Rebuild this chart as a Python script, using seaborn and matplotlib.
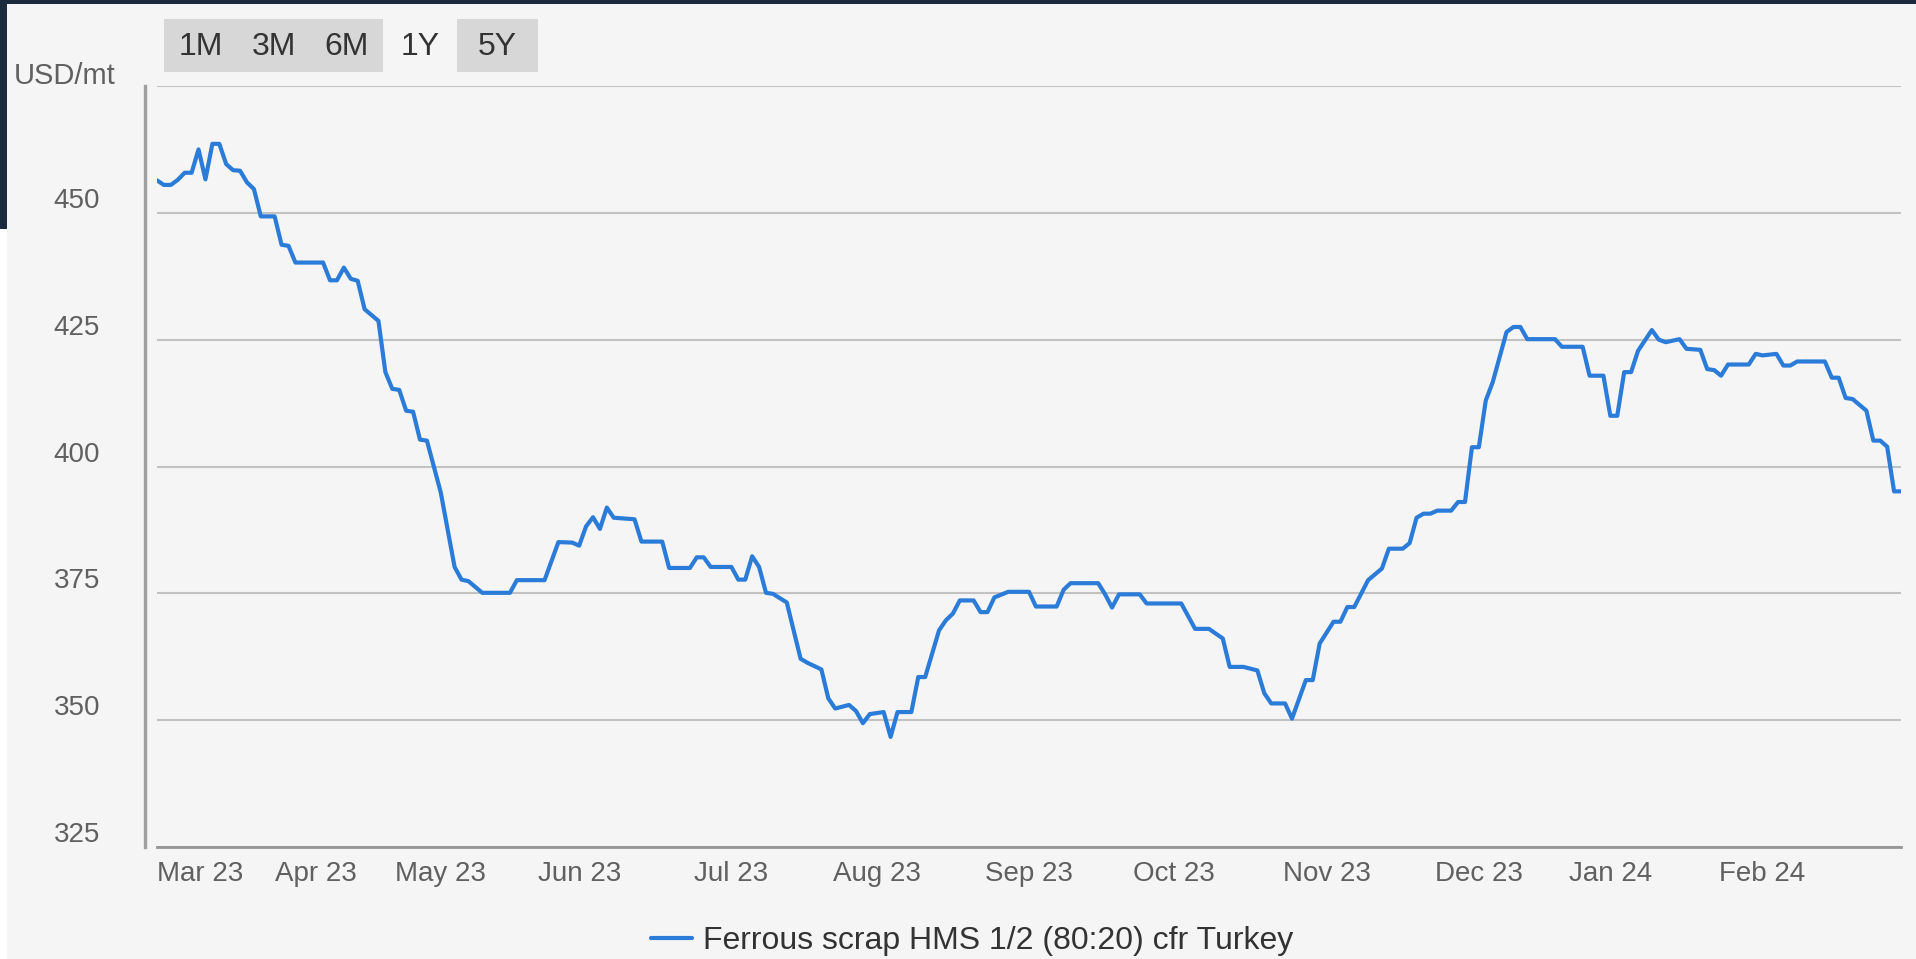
import numpy as np
import pandas as pd
import matplotlib.pyplot as plt
import matplotlib.patches as mpatches
from matplotlib.lines import Line2D
from matplotlib.transforms import ScaledTranslation
import seaborn as sns


# ==========================================================
# data
# ==========================================================
series_name = "Ferrous scrap HMS 1/2 (80:20) cfr Turkey"
unit_label = "USD/mt"

price_dates = [
    "2023-03-01", "2023-03-02", "2023-03-03", "2023-03-06", "2023-03-07", "2023-03-08",
    "2023-03-09", "2023-03-10", "2023-03-13", "2023-03-14", "2023-03-15", "2023-03-16",
    "2023-03-17", "2023-03-20", "2023-03-21", "2023-03-22", "2023-03-24", "2023-03-27",
    "2023-03-28", "2023-03-29", "2023-04-04", "2023-04-05", "2023-04-06", "2023-04-11",
    "2023-04-12", "2023-04-13", "2023-04-14", "2023-04-18", "2023-04-19", "2023-04-20",
    "2023-04-21", "2023-04-24", "2023-04-25", "2023-04-26", "2023-04-27", "2023-05-02",
    "2023-05-04", "2023-05-05", "2023-05-09", "2023-05-11", "2023-05-17", "2023-05-18",
    "2023-05-24", "2023-05-26", "2023-05-31", "2023-06-01", "2023-06-02", "2023-06-05",
    "2023-06-06", "2023-06-07", "2023-06-08", "2023-06-13", "2023-06-14", "2023-06-19",
    "2023-06-20", "2023-06-23", "2023-06-26", "2023-06-27", "2023-06-28", "2023-07-03",
    "2023-07-04", "2023-07-05", "2023-07-06", "2023-07-07", "2023-07-10", "2023-07-11",
    "2023-07-13", "2023-07-17", "2023-07-18", "2023-07-20", "2023-07-21", "2023-07-24",
    "2023-07-26", "2023-07-27", "2023-07-28", "2023-07-31", "2023-08-02", "2023-08-03",
    "2023-08-04", "2023-08-08", "2023-08-09", "2023-08-10", "2023-08-14", "2023-08-15",
    "2023-08-16", "2023-08-17", "2023-08-21", "2023-08-22", "2023-08-23", "2023-08-24",
    "2023-08-29", "2023-09-01", "2023-09-04", "2023-09-07", "2023-09-08", "2023-09-11",
    "2023-09-15", "2023-09-18", "2023-09-19", "2023-09-20", "2023-09-25", "2023-09-26",
    "2023-10-03", "2023-10-05", "2023-10-09", "2023-10-11", "2023-10-12", "2023-10-16",
    "2023-10-18", "2023-10-19", "2023-10-20", "2023-10-24", "2023-10-25", "2023-10-27",
    "2023-10-30", "2023-10-31", "2023-11-02", "2023-11-03", "2023-11-06", "2023-11-07",
    "2023-11-09", "2023-11-13", "2023-11-14", "2023-11-16", "2023-11-17", "2023-11-20",
    "2023-11-21", "2023-11-22", "2023-11-23", "2023-11-27", "2023-11-28", "2023-11-29",
    "2023-11-30", "2023-12-01", "2023-12-04", "2023-12-05", "2023-12-07", "2023-12-08",
    "2023-12-11", "2023-12-12", "2023-12-18", "2023-12-19", "2023-12-22", "2023-12-27",
    "2023-12-29", "2024-01-02", "2024-01-03", "2024-01-04", "2024-01-05", "2024-01-08",
    "2024-01-10", "2024-01-11", "2024-01-12", "2024-01-16", "2024-01-17", "2024-01-19",
    "2024-01-22", "2024-01-23", "2024-01-24", "2024-01-25", "2024-01-30", "2024-01-31",
    "2024-02-01", "2024-02-05", "2024-02-06", "2024-02-07", "2024-02-08", "2024-02-14",
    "2024-02-15", "2024-02-16", "2024-02-19", "2024-02-20", "2024-02-22", "2024-02-23",
    "2024-02-26", "2024-02-27", "2024-02-28", "2024-02-29",
]

price_values = [
    456.4, 455.5, 455.5, 456.5, 457.9, 457.9,
    462.5, 456.6, 463.6, 463.6, 459.6, 458.4,
    458.3, 456.0, 454.7, 449.3, 449.3, 443.7,
    443.5, 440.2, 440.2, 436.7, 436.7, 439.2,
    437.0, 436.6, 431.0, 428.7, 418.6, 415.3,
    415.1, 411.0, 410.8, 405.3, 405.1, 394.9,
    380.2, 377.7, 377.4, 375.1, 375.1, 377.6,
    377.6, 385.1, 385.0, 384.4, 388.2, 390.0,
    387.7, 391.9, 389.9, 389.6, 385.2, 385.2,
    380.0, 380.0, 382.1, 382.1, 380.2, 380.2,
    377.7, 377.7, 382.3, 380.2, 375.1, 374.9,
    373.2, 362.1, 361.3, 360.0, 354.3, 352.3,
    353.0, 351.8, 349.4, 351.2, 351.6, 346.7,
    351.6, 351.6, 358.5, 358.5, 367.7, 369.7,
    371.0, 373.6, 373.6, 371.3, 371.3, 374.2,
    375.3, 375.3, 372.4, 372.4, 375.7, 377.0,
    377.0, 374.8, 372.2, 374.8, 374.8, 373.0,
    373.0, 368.0, 368.0, 366.1, 360.5, 360.5,
    359.8, 355.3, 353.3, 353.3, 350.3, 357.9,
    357.9, 365.1, 369.4, 369.4, 372.3, 372.3,
    377.6, 379.9, 383.8, 383.8, 384.9, 389.9,
    390.7, 390.7, 391.3, 391.3, 393.0, 393.0,
    403.8, 403.8, 413.0, 416.6, 426.5, 427.5,
    427.5, 425.1, 425.1, 423.6, 423.6, 417.9,
    417.9, 410.0, 410.0, 418.6, 418.6, 422.8,
    426.9, 425.0, 424.5, 425.1, 423.2, 423.0,
    419.2, 419.0, 417.9, 420.1, 420.1, 422.2,
    421.9, 422.2, 419.9, 419.9, 420.7, 420.7,
    417.5, 417.5, 413.5, 413.3, 411.0, 405.1,
    405.1, 403.9, 395.1, 395.1,
]

# stock chart uses an ordinal axis: only trading days (UK holidays dropped)
uk_holidays = ["2023-04-07", "2023-04-10", "2023-05-01", "2023-05-08", "2023-05-29",
               "2023-08-28", "2023-12-25", "2023-12-26", "2024-01-01"]

month_labels = ["Mar 23", "Apr 23", "May 23", "Jun 23", "Jul 23", "Aug 23",
                "Sep 23", "Oct 23", "Nov 23", "Dec 23", "Jan 24", "Feb 24"]
y_ticks = [325, 350, 375, 400, 425, 450, 475]
y_tick_labels = ["325", "350", "375", "400", "425", "450", ""]

range_buttons = ["1M", "3M", "6M", "1Y", "5Y"]
selected_button = "1Y"

# ==========================================================
# ordinal x positions
# ==========================================================
days = pd.bdate_range("2023-03-01", "2024-02-29")
days = days[~days.isin(pd.to_datetime(uk_holidays))]
df = pd.DataFrame({"date": pd.to_datetime(price_dates), "price": price_values})
df["pos"] = days.get_indexer(df["date"])
month_pos = (pd.Series(np.arange(len(days)), index=days)
             .groupby(days.to_period("M")).first().values)

# ==========================================================
# style
# ==========================================================
W, H = 1916, 959
BG = "#f5f5f5"
LINE = "#2b7cd9"
TXT = "#606060"

sns.set_style("white")
plt.rcParams["font.family"] = ["Liberation Sans", "DejaVu Sans"]

fig = plt.figure(figsize=(W / 100, H / 100), dpi=100, facecolor=BG)


def fx(px):
    return px / W


def fy(py):
    return 1 - py / H


ax = fig.add_axes([fx(157), fy(847), fx(1901 - 157), (847 - 86) / H])
ax.set_facecolor(BG)

sns.lineplot(data=df, x="pos", y="price", ax=ax, color=LINE, linewidth=3.0,
             estimator=None, legend=False)

ax.set_xlim(0, len(days) - 1)
ax.set_ylim(325, 475)
ax.set_xlabel("")
ax.set_ylabel("")

ax.set_yticks(y_ticks)
ax.set_yticklabels(y_tick_labels)
ax.set_xticks(month_pos)
ax.set_xticklabels(month_labels)

ax.grid(axis="y", color="#c2c2c2", linewidth=1.5)
ax.grid(axis="x", visible=False)
ax.set_axisbelow(True)

for s in ["top", "right"]:
    ax.spines[s].set_visible(False)
ax.spines["left"].set_position(("outward", 8.6))
ax.spines["left"].set_color("#a0a0a0")
ax.spines["left"].set_linewidth(2.4)
ax.spines["bottom"].set_color("#969696")
ax.spines["bottom"].set_linewidth(2.0)

ax.tick_params(axis="y", direction="out", length=11.5, width=1.2, color="#ccd6eb",
               pad=21, labelsize=20, labelcolor=TXT)
ax.tick_params(axis="x", direction="out", length=9.4, width=1.2, color="#ccd6eb",
               pad=1, labelsize=20, labelcolor=TXT)

# labels sit a little above their gridline, first month label hugs the axis start
up = ScaledTranslation(0, 15 / 100, fig.dpi_scale_trans)
for lbl in ax.get_yticklabels():
    lbl.set_transform(lbl.get_transform() + up)
ax.get_xticklabels()[0].set_horizontalalignment("left")

fig.text(fx(14), fy(76), unit_label, ha="left", va="center", fontsize=21, color=TXT)

# ==========================================================
# range selector buttons
# ==========================================================
btn_x = [164, 237, 310, 384, 457]
btn_w = 73
for name, x0 in zip(range_buttons, btn_x):
    w = btn_w + (8 if name == "5Y" else 0)
    if name != selected_button:
        fig.patches.append(mpatches.Rectangle((fx(x0), fy(72)), fx(w), 53 / H,
                                              transform=fig.transFigure,
                                              facecolor="#d7d7d7", edgecolor="none"))
    fig.text(fx(x0 + w / 2), fy(47), name, ha="center", va="center",
             fontsize=23, color="#333333")

# ==========================================================
# page background bits (dark backdrop at the edges)
# ==========================================================
fig.patches.append(mpatches.Rectangle((0, fy(4)), 1, 4 / H, transform=fig.transFigure,
                                      facecolor="#1b2a3d", edgecolor="none"))
fig.patches.append(mpatches.Rectangle((0, fy(229)), fx(7), 229 / H,
                                      transform=fig.transFigure,
                                      facecolor="#1b2a3d", edgecolor="none"))
fig.patches.append(mpatches.Rectangle((0, 0), fx(7), fy(229),
                                      transform=fig.transFigure,
                                      facecolor="white", edgecolor="none"))

# ==========================================================
# legend
# ==========================================================
handle = Line2D([0], [0], color=LINE, linewidth=3.0)
fig.legend([handle], [series_name], loc="center", bbox_to_anchor=(fx(972), fy(941)),
           frameon=False, fontsize=23, handlelength=1.3, handletextpad=0.35,
           labelcolor="#333333")

fig.savefig("out.png", dpi=100, facecolor=BG)
